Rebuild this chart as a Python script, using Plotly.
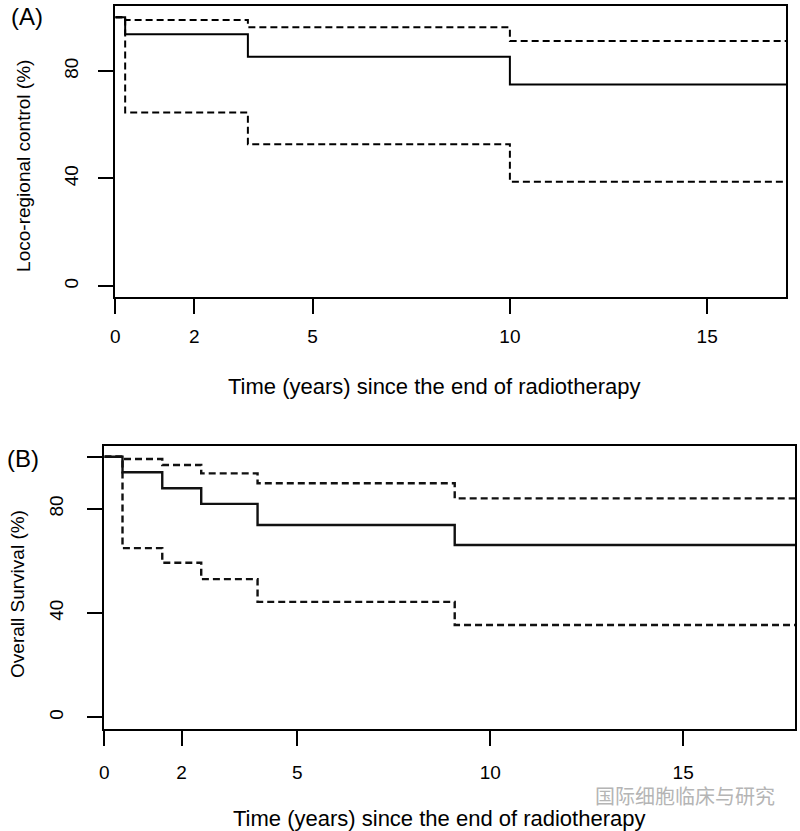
import plotly.graph_objects as go

# ---- data ----
time_a = [0, 0.25, 3.36, 10.0, 17.0]
lrc_a = [100, 93.7, 85.3, 75.0, 75.0]
lrc_upper_a = [100, 99.0, 96.3, 91.2, 91.2]
lrc_lower_a = [100, 64.6, 52.7, 38.8, 38.8]

time_b = [0, 0.47, 1.50, 2.51, 3.97, 9.08, 17.9]
os_b = [100, 94.0, 87.9, 81.9, 73.8, 66.1, 66.1]
os_upper_b = [100, 99.1, 96.8, 93.6, 89.8, 84.0, 84.0]
os_lower_b = [100, 64.9, 59.3, 53.0, 44.3, 35.4, 35.4]

x_ticks = [0, 2, 5, 10, 15]
y_ticks_a = [0, 40, 80]
y_ticktext_a = ["0", "40", "80"]
y_ticks_b = [0, 40, 80, 100]
y_ticktext_b = ["0", "40", "80", ""]

x_title = "Time (years) since the end of radiotherapy"
y_title_a = "Loco-regional control (%)"
y_title_b = "Overall Survival (%)"
panel_a = "(A)"
panel_b = "(B)"
watermark = "国际细胞临床与研究"

W, H = 800, 831
FONT = "Liberation Sans, Arial, sans-serif"

def px(x):
    return x / W

def py(y):
    return 1 - y / H

fig = go.Figure()

solid_a = dict(color="black", width=2, shape="hv")
dashed_a = dict(color="black", width=2, shape="hv", dash="7px,4px")
solid_b = dict(color="#111111", width=2.4, shape="hv")
dashed_b = dict(color="#111111", width=2.4, shape="hv", dash="7px,4px")

fig.add_trace(go.Scatter(x=time_a, y=lrc_a, mode="lines", line=solid_a, xaxis="x", yaxis="y", showlegend=False))
fig.add_trace(go.Scatter(x=time_a, y=lrc_upper_a, mode="lines", line=dashed_a, xaxis="x", yaxis="y", showlegend=False))
fig.add_trace(go.Scatter(x=time_a, y=lrc_lower_a, mode="lines", line=dashed_a, xaxis="x", yaxis="y", showlegend=False))

fig.add_trace(go.Scatter(x=time_b, y=os_b, mode="lines", line=solid_b, xaxis="x2", yaxis="y2", showlegend=False))
fig.add_trace(go.Scatter(x=time_b, y=os_upper_b, mode="lines", line=dashed_b, xaxis="x2", yaxis="y2", showlegend=False))
fig.add_trace(go.Scatter(x=time_b, y=os_lower_b, mode="lines", line=dashed_b, xaxis="x2", yaxis="y2", showlegend=False))

axis_common = dict(
    showline=True, mirror=True, linecolor="black", linewidth=1.8,
    ticks="outside", ticklen=15, tickwidth=1.8, tickcolor="black",
    showgrid=False, zeroline=False,
    tickfont=dict(family=FONT, size=19, color="black"),
)

fig.update_layout(
    width=W, height=H,
    margin=dict(l=0, r=0, t=0, b=0),
    paper_bgcolor="white", plot_bgcolor="white",
    font=dict(family=FONT, color="black"),
    xaxis=dict(domain=[px(111), px(786)], range=[0, 17.0], tickvals=x_ticks,
               ticklabelstandoff=7, anchor="y", **axis_common),
    yaxis=dict(domain=[py(296.7), py(6)], range=[-4.0, 104.2], tickvals=y_ticks_a,
               ticktext=y_ticktext_a, tickangle=-90, ticklabelstandoff=13, anchor="x", **axis_common),
    xaxis2=dict(domain=[px(100), px(795)], range=[0, 17.9], tickvals=x_ticks,
                ticklabelstandoff=10, anchor="y2", **axis_common),
    yaxis2=dict(domain=[py(729), py(446)], range=[-4.5, 104.1], tickvals=y_ticks_b,
                ticktext=y_ticktext_b, tickangle=-90, ticklabelstandoff=17, anchor="x2", **axis_common),
)

ann = [
    dict(text=panel_a, x=px(4), y=py(16), xanchor="left", yanchor="middle", font=dict(size=24)),
    dict(text=panel_b, x=px(0), y=py(458), xanchor="left", yanchor="middle", font=dict(size=24)),
    dict(text=x_title, x=px(432), y=py(386), xanchor="center", yanchor="middle", font=dict(size=22)),
    dict(text=x_title, x=px(437), y=py(818), xanchor="center", yanchor="middle", font=dict(size=22)),
    dict(text=y_title_a, x=px(18), y=py(166), xanchor="center", yanchor="middle", textangle=-90, font=dict(size=19)),
    dict(text=y_title_b, x=px(12), y=py(594), xanchor="center", yanchor="middle", textangle=-90, font=dict(size=19)),
    dict(text=watermark, x=px(592), y=py(795), xanchor="left", yanchor="middle",
         font=dict(size=20, color="#b5b5b5", family="Noto Sans CJK SC")),
]
for a in ann:
    a.update(xref="paper", yref="paper", showarrow=False)
    a.setdefault("font", {})
    a["font"].setdefault("family", FONT)
    a["font"].setdefault("color", "black")
fig.update_layout(annotations=ann)

fig.write_html(
    "out.html",
    config={"displayModeBar": False},
    post_script="document.body.style.margin='0';document.body.style.padding='0';document.body.style.overflow='hidden';",
)
